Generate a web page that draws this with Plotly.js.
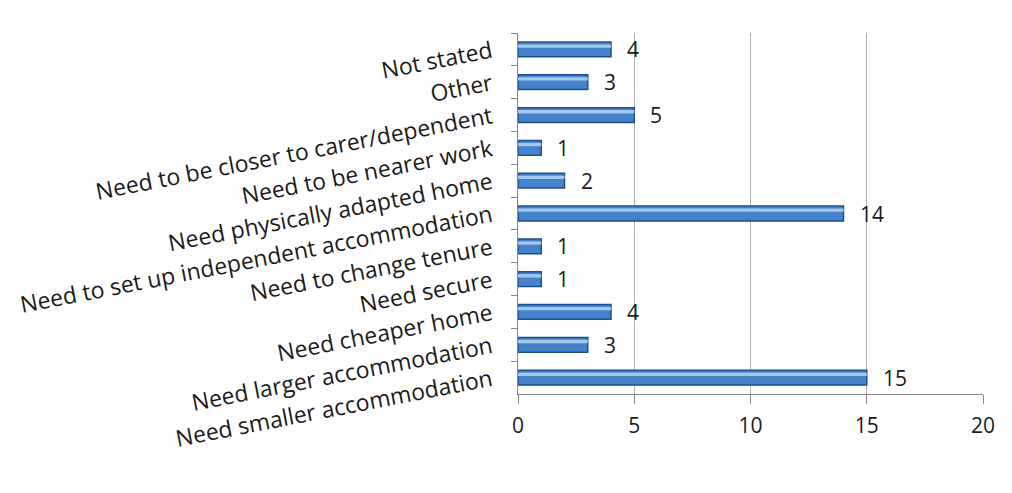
<!DOCTYPE html>
<html>
<head>
<meta charset="utf-8">
<script src="https://cdn.plot.ly/plotly-3.0.1.min.js"></script>
<style>html,body{margin:0;padding:0;background:#fff;}#chart{width:1012px;height:493px;}</style>
</head>
<body>
<div id="chart"></div>
<script>
// Categories listed top to bottom
const categories = [
  "Not stated",
  "Other",
  "Need to be closer to carer/dependent",
  "Need to be nearer work",
  "Need physically adapted home",
  "Need to set up independent accommodation",
  "Need to change tenure",
  "Need secure",
  "Need cheaper home",
  "Need larger accommodation",
  "Need smaller accommodation"
];
const counts = [4, 3, 5, 1, 2, 14, 1, 1, 4, 3, 15];
const xTicks = [0, 5, 10, 15, 20];

const FONT = "Open Sans, Noto Sans, sans-serif";

const base = {
  type: "bar", orientation: "h",
  x: counts, y: categories,
  width: 0.45,
  marker: { color: "#4584cc", line: { color: "#1f4f8a", width: 1.5 } },
  hoverinfo: "skip"
};
const shine = {
  type: "bar", orientation: "h",
  x: counts, y: categories,
  width: 0.1, offset: -0.15,
  marker: { color: "#b3d4f5", line: { width: 0 } },
  opacity: 0.85,
  hoverinfo: "skip"
};

const annotations = categories.map((c, i) => ({
  x: counts[i], y: c, xref: "x", yref: "y",
  text: String(counts[i]), showarrow: false,
  xanchor: "left", xshift: 14, yshift: 0,
  font: { family: FONT, size: 21, color: "#1a1a1a" }
}));

const layout = {
  width: 1012, height: 493,
  margin: { l: 518, r: 29, t: 33, b: 99 },
  paper_bgcolor: "#ffffff", plot_bgcolor: "#ffffff",
  barmode: "overlay",
  showlegend: false,
  xaxis: {
    range: [0, 20], tickvals: xTicks, ticktext: xTicks.map(String),
    showgrid: true, gridcolor: "#b0b0b0", gridwidth: 1,
    zeroline: false,
    showline: true, linecolor: "#868686", linewidth: 1,
    ticks: "outside", ticklen: 9, tickcolor: "#868686",
    ticklabelstandoff: 4,
    tickfont: { family: FONT, size: 21, color: "#1a1a1a" },
    fixedrange: true
  },
  yaxis: {
    type: "category", autorange: "reversed",
    categoryorder: "array", categoryarray: categories,
    showgrid: false, zeroline: false,
    showline: true, linecolor: "#868686", linewidth: 1,
    ticks: "outside", ticklen: 6, tickcolor: "#868686",
    tickson: "boundaries",
    tickangle: -11,
    ticklabelstandoff: 21,
    tickfont: { family: FONT, size: 23, color: "#1a1a1a" },
    fixedrange: true
  },
  annotations: annotations
};

Plotly.newPlot("chart", [base, shine], layout, { staticPlot: true, displayModeBar: false });
</script>
</body>
</html>
